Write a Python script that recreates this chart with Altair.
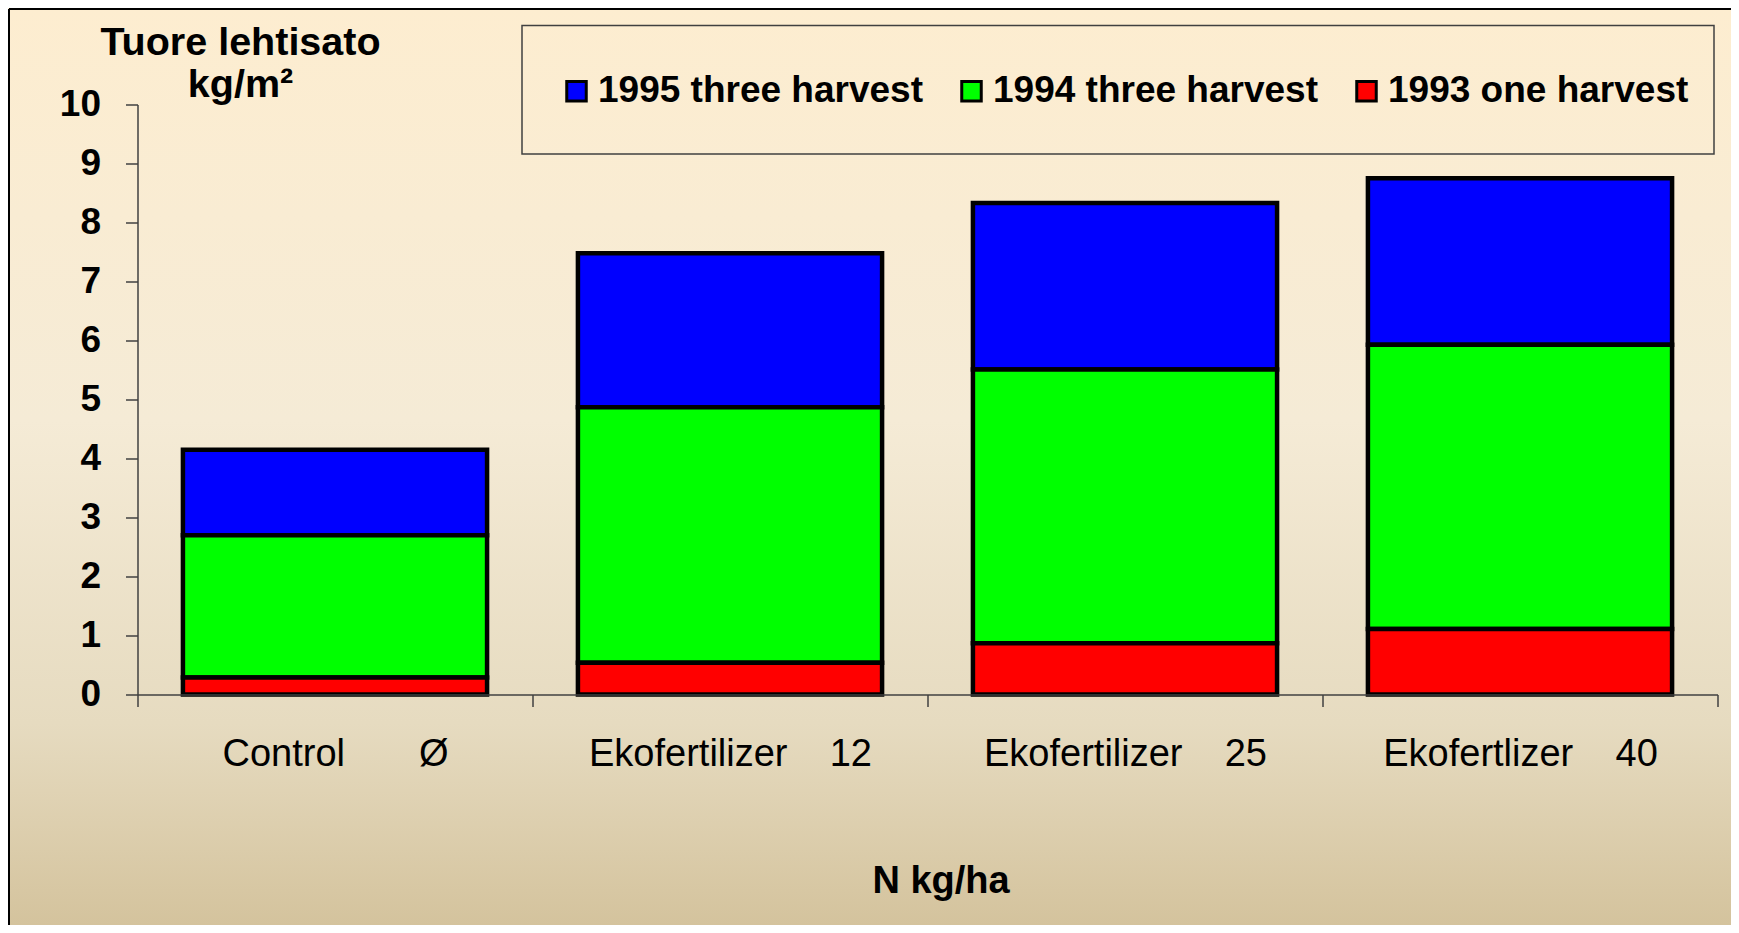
import altair as alt
import pandas as pd

NB = "\u00a0"
categories = [
    "Control" + NB * 7 + "Ø",
    "Ekofertilizer" + NB * 4 + "12",
    "Ekofertilizer" + NB * 4 + "25",
    "Ekofertlizer" + NB * 4 + "40",
]
series = ["1995 three harvest", "1994 three harvest", "1993 one harvest"]
colors = ["#0000FF", "#00FF00", "#FF0000"]
stack_order = [2, 1, 0]
v1995 = [1.45, 2.61, 2.82, 2.82]
v1994 = [2.41, 4.33, 4.64, 4.82]
v1993 = [0.29, 0.54, 0.87, 1.11]
y_ticks = list(range(0, 11))

rows = []
for s, o, vals in zip(series, stack_order, [v1995, v1994, v1993]):
    for c, v in zip(categories, vals):
        rows.append({"cat": c, "series": s, "ord": o, "val": v})
df = pd.DataFrame(rows)

FONT = "Liberation Sans"
W, H = 1580, 590
PL, PT = 129.5, 96.5
PR = 1723 - PL - W
PB = 917 - PT - H

one = pd.DataFrame({"k": [0]})

bg = alt.Chart(one).mark_rect(
    fill=alt.LinearGradient(
        gradient="linear",
        stops=[
            alt.GradientStop(color="#FDEDD0", offset=0),
            alt.GradientStop(color="#F5EBD6", offset=0.45),
            alt.GradientStop(color="#E6DBC0", offset=0.78),
            alt.GradientStop(color="#D4C39D", offset=1),
        ],
        x1=0, x2=0, y1=0, y2=1,
    ),
    strokeWidth=0,
).encode(
    x=alt.value(-PL), x2=alt.value(W + PR),
    y=alt.value(-PT), y2=alt.value(H + PB),
)

# legend frame (decoration)
legend_box = alt.Chart(one).mark_rect(
    fillOpacity=0, stroke="#404040", strokeWidth=1.5
).encode(
    x=alt.value(384.5), x2=alt.value(1576.5), y=alt.value(-79), y2=alt.value(49.5)
)

border_left = alt.Chart(one).mark_rule(color="black", strokeWidth=2).encode(
    x=alt.value(-PL + 1), y=alt.value(-PT + 1), y2=alt.value(H + PB)
)
border_top = alt.Chart(one).mark_rule(color="black", strokeWidth=2).encode(
    x=alt.value(-PL + 1), x2=alt.value(W + PR), y=alt.value(-PT + 1)
)

bars = alt.Chart(df).mark_bar(
    stroke="black", strokeWidth=4.5, strokeJoin="miter",
    width=alt.RelativeBandSize(0.77),
).encode(
    x=alt.X(
        "cat:N",
        sort=categories,
        scale=alt.Scale(paddingInner=0, paddingOuter=0),
        axis=alt.Axis(
            title="N kg/ha",
            titleFont=FONT, titleFontSize=38, titleFontWeight="bold", titleColor="black",
            titleX=803, titleY=198, titleAlign="center", titleBaseline="alphabetic",
            labelAngle=0, labelFont=FONT, labelFontSize=38, labelFontWeight="normal",
            labelColor="black", labelPadding=29, labelLimit=0, labelOverlap=False,
            tickBand="extent", tickSize=12, tickColor="#404040", tickWidth=1.5,
            domainColor="#404040", domainWidth=1.5, grid=False, zindex=1,
        ),
    ),
    y=alt.Y(
        "val:Q",
        stack="zero",
        scale=alt.Scale(domain=[0, 10], nice=False),
        axis=alt.Axis(
            values=y_ticks, format="d",
            title=["Tuore lehtisato", "kg/m²"],
            titleAngle=0, titleX=102.5, titleY=-50.5, titleAlign="center",
            titleBaseline="alphabetic", titleLineHeight=42,
            titleFont=FONT, titleFontSize=39.5, titleFontWeight="bold", titleColor="black",
            labelFont=FONT, labelFontSize=37, labelFontWeight="bold", labelColor="black",
            labelPadding=25, tickSize=12, tickColor="#404040", tickWidth=1.5,
            domainColor="#404040", domainWidth=1.5, grid=False, zindex=1,
        ),
    ),
    color=alt.Color(
        "series:N",
        scale=alt.Scale(domain=series, range=colors),
        legend=alt.Legend(
            title=None, orient="none", legendX=420.5, legendY=-32,
            direction="horizontal", columns=3, columnPadding=30,
            labelFont=FONT, labelFontSize=37, labelFontWeight="bold", labelColor="black",
            labelLimit=0, labelOffset=3,
            symbolType="square", symbolSize=380, symbolStrokeColor="black",
            symbolStrokeWidth=3, symbolOpacity=1,
            padding=0,
        ),
    ),
    order=alt.Order("ord:Q", sort="ascending"),
)

chart = alt.layer(bg, legend_box, border_left, border_top, bars).properties(
    width=W, height=H,
    autosize=alt.AutoSizeParams(type="none"),
    padding={"left": PL, "top": PT, "right": PR, "bottom": PB},
).configure_view(stroke=None).configure(font=FONT)

chart.save("out.html", embed_options={"renderer": "svg", "actions": False})
